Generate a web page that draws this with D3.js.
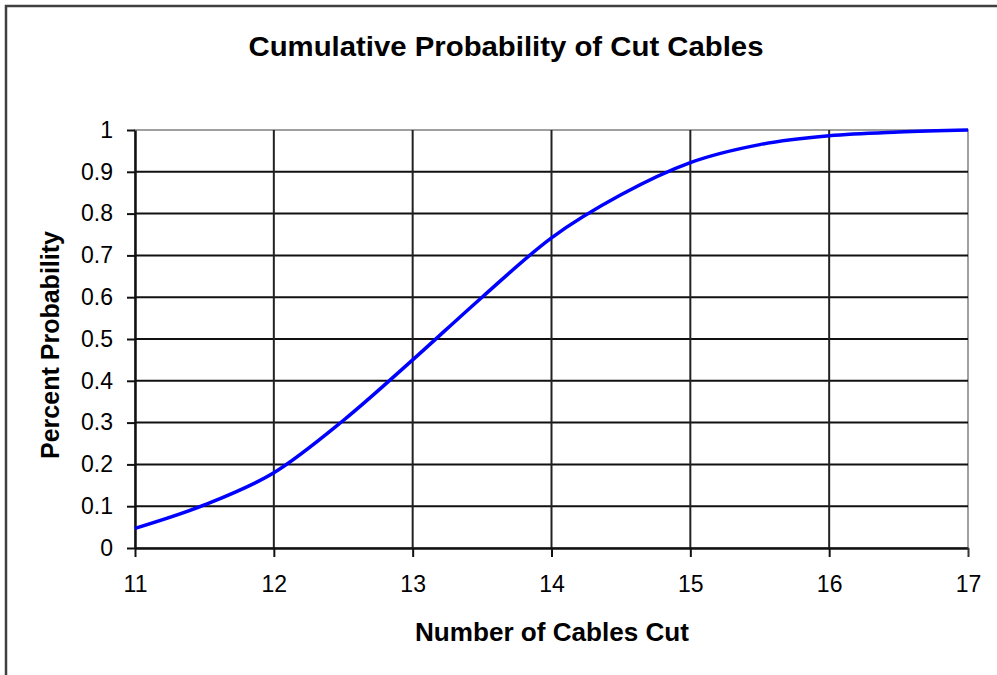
<!DOCTYPE html>
<html>
<head>
<meta charset="utf-8">
<script src="https://cdn.jsdelivr.net/npm/d3@7"></script>
<style>
  html, body { margin: 0; padding: 0; background: #fff; }
  svg { display: block; }
</style>
</head>
<body>
<svg id="chart" width="997" height="675"></svg>
<script>
const cablesCut = [11, 11.5, 12, 12.5, 13, 13.5, 14, 14.5, 15, 15.5, 16, 16.5, 17];
const cumProb   = [0.047, 0.103, 0.18, 0.305, 0.45, 0.60, 0.742, 0.845, 0.922, 0.965, 0.986, 0.995, 1.0];
const xTicks = [11, 12, 13, 14, 15, 16, 17];
const yTicks = [0, 0.1, 0.2, 0.3, 0.4, 0.5, 0.6, 0.7, 0.8, 0.9, 1];
const titleText = "Cumulative Probability of Cut Cables";
const xTitle = "Number of Cables Cut";
const yTitle = "Percent Probability";

const FONT = "'Liberation Sans', Arial, sans-serif";
const svg = d3.select("#chart");
const L = 135, R = 968, T = 130, B = 548;

// outer chart border
svg.append("rect").attr("x", 6).attr("y", 6).attr("width", 1000).attr("height", 700)
  .attr("fill", "#fff").attr("stroke", "#404040").attr("stroke-width", 2.5);

const x = d3.scaleLinear().domain([11, 17]).range([L, R]);
const y = d3.scaleLinear().domain([0, 1]).range([B, T]);

// plot area border (gray top/right)
svg.append("rect").attr("x", L).attr("y", T).attr("width", R - L).attr("height", B - T)
  .attr("fill", "#fff").attr("stroke", "#a0a0a0").attr("stroke-width", 2);

// horizontal gridlines
svg.append("g").selectAll("line").data(yTicks.filter(d => d > 0 && d < 1)).join("line")
  .attr("x1", L).attr("x2", R).attr("y1", d => y(d)).attr("y2", d => y(d))
  .attr("stroke", "#111").attr("stroke-width", 2);
// vertical gridlines
svg.append("g").selectAll("line").data(xTicks.filter(d => d > 11 && d < 17)).join("line")
  .attr("y1", T).attr("y2", B).attr("x1", d => x(d)).attr("x2", d => x(d))
  .attr("stroke", "#222").attr("stroke-width", 2);

// axes
const yAxis = d3.axisLeft(y).tickValues(yTicks).tickSizeInner(8).tickSizeOuter(0).tickPadding(14)
  .tickFormat(d => String(+d.toFixed(1)));
const gy = svg.append("g").attr("transform", `translate(${L},0)`).call(yAxis);
gy.select(".domain").attr("stroke", "#111").attr("stroke-width", 2.5);
gy.selectAll(".tick line").attr("stroke", "#111").attr("stroke-width", 2);
gy.selectAll("text").style("font-family", FONT).style("font-size", "23px").attr("fill", "#000");

const xAxis = d3.axisBottom(x).tickValues(xTicks).tickSizeInner(9).tickSizeOuter(0).tickPadding(19).tickFormat(d3.format("d"));
const gx = svg.append("g").attr("transform", `translate(0,${B})`).call(xAxis);
gx.select(".domain").attr("stroke", "#111").attr("stroke-width", 2.5);
gx.selectAll(".tick line").attr("stroke", "#111").attr("stroke-width", 2);
gx.selectAll("text").style("font-family", FONT).style("font-size", "23px").attr("fill", "#000");
gx.select(".tick:last-of-type line").attr("stroke", "#333");

// line
const line = d3.line().x(d => x(d[0])).y(d => y(d[1])).curve(d3.curveMonotoneX);
svg.append("path").datum(cablesCut.map((c, i) => [c, cumProb[i]]))
  .attr("d", line).attr("fill", "none").attr("stroke", "#0000ff").attr("stroke-width", 3.5);

// titles
svg.append("text").attr("x", 506).attr("y", 56).attr("text-anchor", "middle")
  .style("font-family", FONT).style("font-size", "28px").style("font-weight", "bold")
  .attr("textLength", 515).attr("lengthAdjust", "spacingAndGlyphs").text(titleText);
svg.append("text").attr("x", 552).attr("y", 641).attr("text-anchor", "middle")
  .style("font-family", FONT).style("font-size", "25px").style("font-weight", "bold")
  .attr("textLength", 274).attr("lengthAdjust", "spacingAndGlyphs").text(xTitle);
svg.append("text").attr("transform", "translate(59,345) rotate(-90)").attr("text-anchor", "middle")
  .style("font-family", FONT).style("font-size", "25px").style("font-weight", "bold")
  .attr("textLength", 228).attr("lengthAdjust", "spacingAndGlyphs").text(yTitle);
</script>
</body>
</html>
